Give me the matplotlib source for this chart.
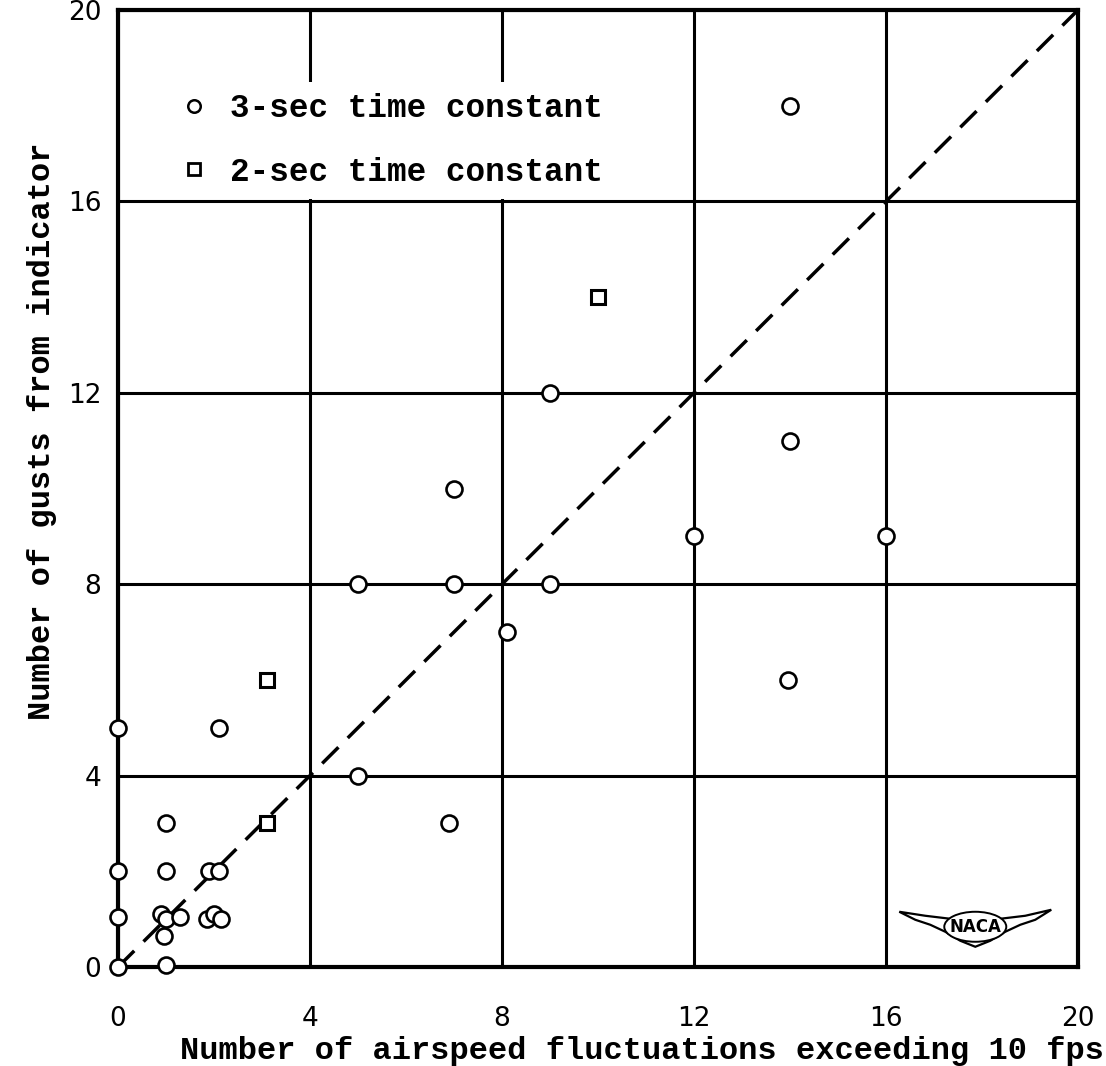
import matplotlib
matplotlib.use("Agg")
import matplotlib.pyplot as plt
from matplotlib.patches import Polygon, Ellipse
from matplotlib.lines import Line2D

# ---- data ----
sec3_x = [0, 0, 0, 0,
          1.0, 0.95, 0.9, 1.0, 1.3, 1.0, 1.0,
          1.85, 2.0, 2.15, 1.9, 2.1, 2.1,
          5, 5, 6.9, 7, 7, 8.1, 9, 9,
          12, 14, 13.95, 14, 16]
sec3_y = [0, 1.05, 2, 5,
          0.05, 0.65, 1.1, 1.0, 1.05, 2, 3,
          1.0, 1.1, 1.0, 2, 2, 5,
          4, 8, 3, 8, 10, 7, 8, 12,
          9, 11, 6, 18, 9]
sec2_x = [3.1, 3.1, 10]
sec2_y = [3, 6, 14]
ideal = [0, 20]
ticks = [0, 4, 8, 12, 16, 20]
tick_labels = ["0", "4", "8", "12", "16", "20"]
label_3 = "3-sec time constant"
label_2 = "2-sec time constant"
xlabel = "Number of airspeed fluctuations exceeding 10 fps"
ylabel = "Number of gusts from indicator"

mono = ["Liberation Mono", "DejaVu Sans Mono"]

fig = plt.figure(figsize=(11.06, 10.66), dpi=100)
ax = fig.add_axes([118/1106, 1-967/1066, 960/1106, 957/1066])
ax.set_xlim(0, 20)
ax.set_ylim(0, 20)
ax.set_xticks(ticks)
ax.set_yticks(ticks)
ax.set_xticklabels(tick_labels)
ax.set_yticklabels(tick_labels)
ax.tick_params(length=0, labelsize=19)
ax.tick_params(axis="x", pad=28)
ax.tick_params(axis="y", pad=12)
ax.grid(True, color="black", linewidth=2.2, zorder=1)
ax.set_axisbelow(True)
for s in ax.spines.values():
    s.set_linewidth(3.0)

ax.plot(ideal, ideal, color="black", linewidth=2.5, linestyle=(0, (6.6, 3.78)),
        zorder=2)

ax.plot(sec3_x, sec3_y, linestyle="none", marker="o", markersize=11.5,
        markerfacecolor="white", markeredgecolor="black", markeredgewidth=1.9,
        zorder=4, clip_on=False)
ax.plot(sec2_x, sec2_y, linestyle="none", marker="s", markersize=10,
        markerfacecolor="white", markeredgecolor="black", markeredgewidth=2.2,
        zorder=4, clip_on=False)

handles = [Line2D([], [], linestyle="none", marker="o", markersize=9,
                  markerfacecolor="white", markeredgecolor="black", markeredgewidth=1.8),
           Line2D([], [], linestyle="none", marker="s", markersize=9,
                  markerfacecolor="white", markeredgecolor="black", markeredgewidth=2.0)]
leg = ax.legend(handles, [label_3, label_2], loc="upper left",
                bbox_to_anchor=(0.05, 0.925), borderaxespad=0, borderpad=0.35,
                handlelength=1.0, handletextpad=0.6, labelspacing=1.0,
                frameon=True, facecolor="white", edgecolor="none", framealpha=1,
                prop={"family": mono, "weight": "bold", "size": 23.5})
leg.set_zorder(5)

ax.set_xlabel(xlabel, fontfamily=mono, fontweight="bold", fontsize=23)
ax.xaxis.set_label_coords(0.546, -0.072)
ax.set_ylabel(ylabel, fontfamily=mono, fontweight="bold", fontsize=23)
ax.yaxis.set_label_coords(-0.064, 0.56)

# NACA wing logo (decoration)
cx, cy = 0.893, 0.041
sx, sy = 1/960, 1/957
pts = [(-76, 16), (-50, 12), (-25, 9), (0, 10), (25, 9), (50, 12), (76, 18),
       (60, 8), (45, 3), (30, -4), (15, -13), (0, -19), (-15, -13), (-30, -4),
       (-45, 3), (-60, 8)]
poly = Polygon([(cx + px*sx, cy + py*sy) for px, py in pts], closed=True,
               facecolor="white", edgecolor="black", linewidth=1.6,
               transform=ax.transAxes, zorder=6)
ax.add_patch(poly)
ell = Ellipse((cx, cy + 1*sy), 62*sx, 30*sy, facecolor="white", edgecolor="black",
              linewidth=1.4, transform=ax.transAxes, zorder=6.5)
ax.add_patch(ell)
ax.text(cx, cy + 1*sy, "NACA", transform=ax.transAxes, ha="center", va="center",
        fontsize=12, fontweight="bold", fontfamily="DejaVu Sans", zorder=7)

fig.savefig("out.png", dpi=100)
